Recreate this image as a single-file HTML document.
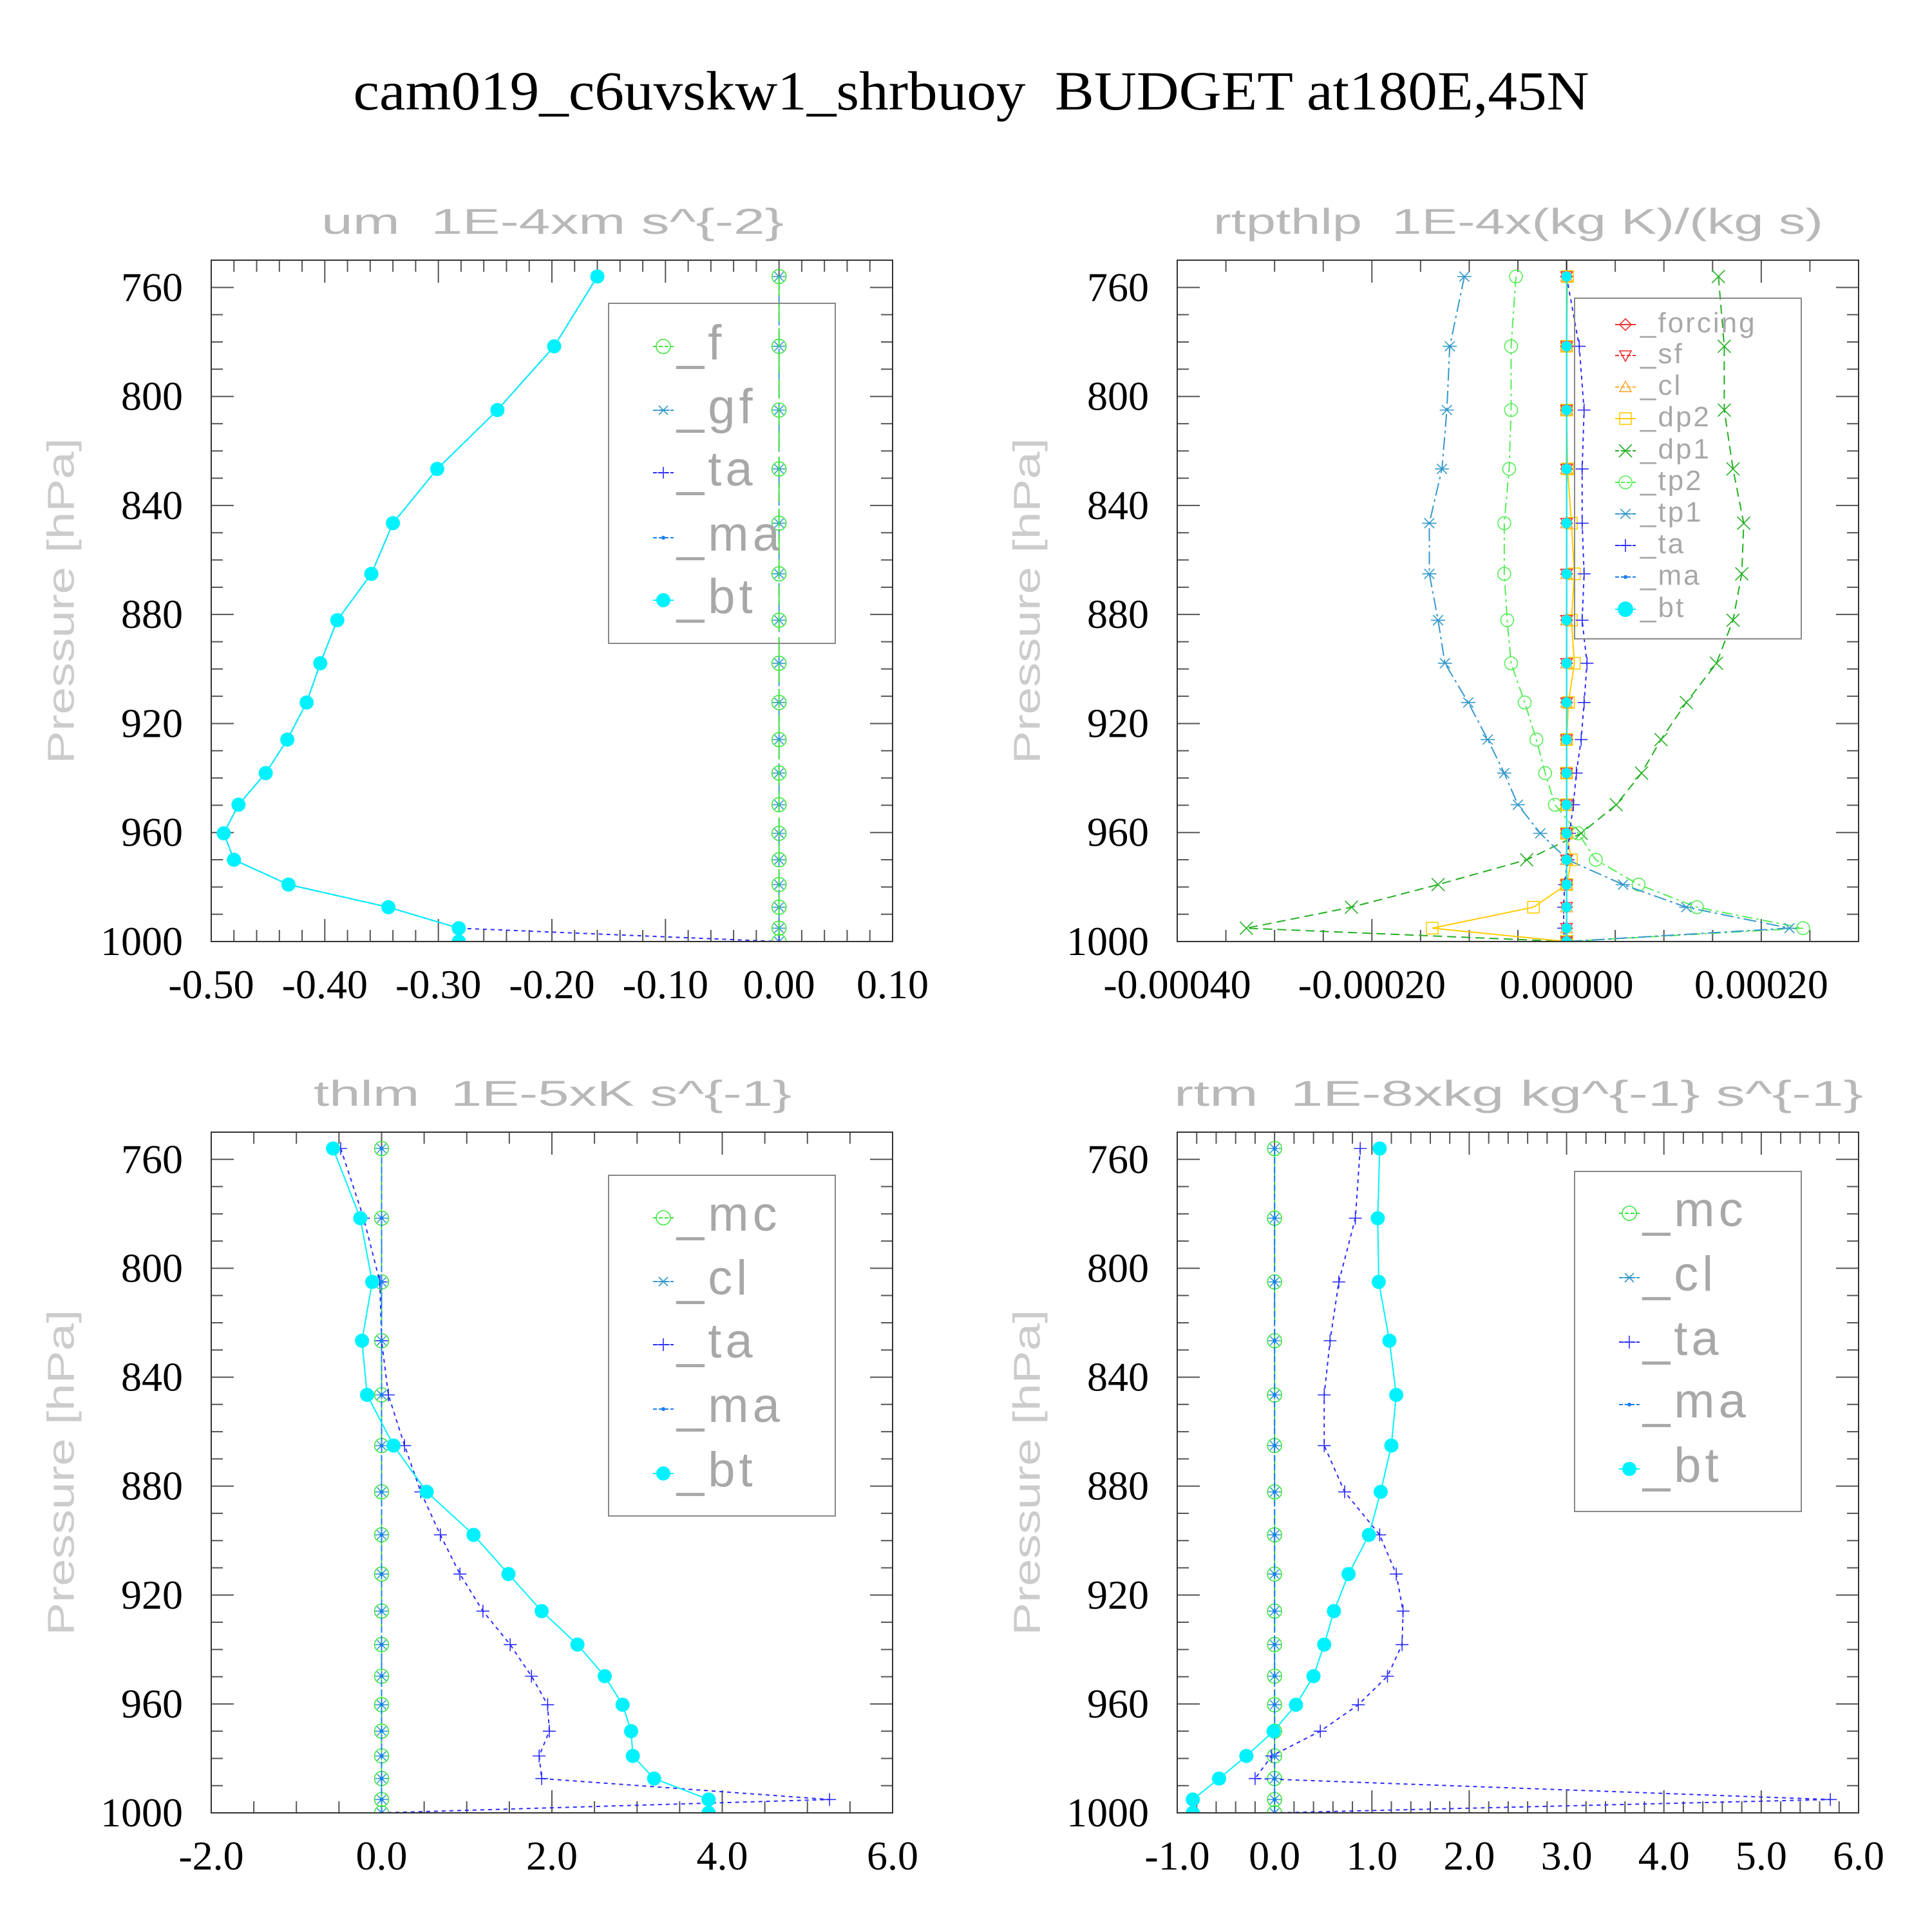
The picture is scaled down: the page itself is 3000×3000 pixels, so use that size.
<!DOCTYPE html>
<html><head><meta charset="utf-8"><style>
html,body{margin:0;padding:0;background:#fff;}
svg{display:block;}
text{white-space:pre;}
</style></head><body>
<svg id="fig" xmlns="http://www.w3.org/2000/svg" width="3000" height="3000" viewBox="0 0 3000 3000" xml:space="preserve">
<rect x="0" y="0" width="3000" height="3000" fill="#fff"/>
<text x="1508" y="170" text-anchor="middle" font-family="Liberation Serif, serif" font-size="86" textLength="1919" lengthAdjust="spacingAndGlyphs" fill="#000">cam019_c6uvskw1_shrbuoy  BUDGET at180E,45N</text>
</svg>
<script>
// pressure levels (hPa)
const levels = [756,781.6,805,826.6,846.5,865.1,882.1,897.9,912.3,925.9,938.2,949.8,960.3,970,979.1,987.4,995.1,1000];
const zeros = [0,0,0,0,0,0,0,0,0,0,0,0,0,0,0,0,0,0];
// panel 1: um (1E-4 m s^-2)
const um_bt = [-0.160,-0.198,-0.248,-0.301,-0.340,-0.359,-0.389,-0.404,-0.416,-0.433,-0.452,-0.476,-0.489,-0.480,-0.432,-0.344,-0.282,-0.282];
const um_ta = [-0.160,-0.198,-0.248,-0.301,-0.340,-0.359,-0.389,-0.404,-0.416,-0.433,-0.452,-0.476,-0.489,-0.480,-0.432,-0.344,-0.282,0];
// panel 2: rtpthlp (1E-4 units of x-axis scale)
const rp_tp1 = [-1.05,-1.20,-1.23,-1.28,-1.41,-1.41,-1.32,-1.25,-1.01,-0.81,-0.64,-0.50,-0.27,0.01,0.58,1.23,2.29,0];
const rp_tp2 = [-0.52,-0.57,-0.57,-0.59,-0.64,-0.64,-0.61,-0.57,-0.43,-0.31,-0.22,-0.12,0.12,0.30,0.74,1.34,2.43,0];
const rp_dp1 = [1.56,1.62,1.62,1.71,1.82,1.80,1.71,1.54,1.23,0.97,0.77,0.51,0.15,-0.41,-1.32,-2.21,-3.29,0];
const rp_dp2 = [0.01,0,0,0.01,0.05,0.08,0.05,0.08,0.02,0,0,0,0,0.05,0,-0.34,-1.38,0];
const rp_ta = [0.0,0.13,0.18,0.16,0.16,0.18,0.16,0.21,0.18,0.15,0.10,0.07,0.03,0.01,-0.02,-0.03,-0.03,0];
// panel 3: thlm (1E-5 K s^-1)
const th_bt = [-0.57,-0.25,-0.11,-0.23,-0.17,0.14,0.53,1.08,1.49,1.88,2.30,2.62,2.83,2.93,2.95,3.20,3.84,3.84];
const th_ta = [-0.48,-0.21,-0.02,0,0.08,0.27,0.46,0.69,0.92,1.19,1.51,1.76,1.95,1.97,1.85,1.88,5.26,0];
// panel 4: rtm (1E-8 kg kg^-1 s^-1)
const rt_bt = [1.08,1.06,1.07,1.18,1.25,1.20,1.09,0.97,0.76,0.61,0.51,0.40,0.22,-0.01,-0.29,-0.57,-0.84,-0.84];
const rt_ta = [0.88,0.83,0.66,0.57,0.51,0.51,0.72,1.08,1.25,1.32,1.31,1.16,0.86,0.47,-0.03,-0.20,5.71,0];
// tick labels
const yTickLabels = [760,800,840,880,920,960,1000];
const p1Ticks = ["-0.50","-0.40","-0.30","-0.20","-0.10","0.00","0.10"];
const p2Ticks = ["-0.00040","-0.00020","0.00000","0.00020"];
const p3Ticks = ["-2.0","0.0","2.0","4.0","6.0"];
const p4Ticks = ["-1.0","0.0","1.0","2.0","3.0","4.0","5.0","6.0"];

const NS = "http://www.w3.org/2000/svg";
const svg = document.getElementById('fig');
function mk(tag, attrs, parent){ const e=document.createElementNS(NS,tag); for(const k in attrs) e.setAttribute(k,attrs[k]); (parent||svg).appendChild(e); return e; }

const C = {green:'#3ce63c', lgreen:'#55ee55', dgreen:'#22b022', steel:'#3399cc', blue:'#2b2bff', ma:'#1a7ff0', cyan:'#00f2ff', red:'#ee3333', orange:'#ffaa33', gold:'#ffcc00'};

function marker(g, type, x, y, color, s){
  let e;
  if(type==='circle'){ e=mk('circle',{cx:x,cy:y,r:s,fill:'none',stroke:color,'stroke-width':1.6},g); }
  else if(type==='fcircle'){ e=mk('circle',{cx:x,cy:y,r:s,fill:color,stroke:'none'},g); }
  else if(type==='dot'){ e=mk('circle',{cx:x,cy:y,r:s,fill:color},g); }
  else if(type==='plus'){ e=mk('path',{d:`M${x-s} ${y}H${x+s}M${x} ${y-s}V${y+s}`,stroke:color,'stroke-width':1.6,fill:'none'},g); }
  else if(type==='x'){ e=mk('path',{d:`M${x-s} ${y-s}L${x+s} ${y+s}M${x-s} ${y+s}L${x+s} ${y-s}`,stroke:color,'stroke-width':1.6,fill:'none'},g); }
  else if(type==='asterisk'){ e=mk('path',{d:`M${x-s} ${y}H${x+s}M${x-s*0.7} ${y-s*0.7}L${x+s*0.7} ${y+s*0.7}M${x-s*0.7} ${y+s*0.7}L${x+s*0.7} ${y-s*0.7}`,stroke:color,'stroke-width':1.6,fill:'none'},g); }
  else if(type==='diamond'){ e=mk('path',{d:`M${x} ${y-s}L${x+s} ${y}L${x} ${y+s}L${x-s} ${y}Z`,stroke:color,'stroke-width':1.6,fill:'none'},g); }
  else if(type==='tridown'){ e=mk('path',{d:`M${x-s} ${y-s*0.8}H${x+s}L${x} ${y+s}Z`,stroke:color,'stroke-width':1.6,fill:'none'},g); }
  else if(type==='triup'){ e=mk('path',{d:`M${x-s} ${y+s*0.8}H${x+s}L${x} ${y-s}Z`,stroke:color,'stroke-width':1.6,fill:'none'},g); }
  else if(type==='square'){ e=mk('rect',{x:x-s,y:y-s,width:2*s,height:2*s,stroke:color,'stroke-width':1.6,fill:'none'},g); }
  return e;
}

function panel(cfg, idx){
  const {x0,x1,y0,y1,xmin,xmax} = cfg;
  const sx = v => x0 + (v-xmin)/(xmax-xmin)*(x1-x0);
  const sy = p => y0 + (p-750)/250*(y1-y0);
  const g = mk('g',{});
  
  
  const cp = mk('clipPath',{id:'clip'+idx},g);
  mk('rect',{x:x0,y:y0,width:x1-x0,height:y1-y0},cp);
  // title
  const t = mk('text',{x:(cfg.tx0+cfg.tx1)/2,y:y0-41,'text-anchor':'middle','font-family':'Liberation Sans, sans-serif','font-size':56,fill:'#b8b8b8',textLength:cfg.tx1-cfg.tx0,lengthAdjust:'spacingAndGlyphs'},g);
  t.textContent = cfg.title;
  
  
  // y label
  const cy = (y0+y1)/2, lx = x0-233;
  const yl = mk('text',{x:lx,y:cy,transform:`rotate(-90 ${lx} ${cy})`,'text-anchor':'middle','dominant-baseline':'central','font-family':'Liberation Sans, sans-serif','font-size':58,fill:'#cccccc',textLength:506,lengthAdjust:'spacingAndGlyphs'},g);
  yl.textContent = 'Pressure [hPa]';
  
  
  // ticks
  const tk = mk('g',{stroke:'#555','stroke-width':2},g);
  for(let p=760;p<=1000;p+=10){
    const y=sy(p), L=(p%40===0)?35:18;
    mk('line',{x1:x0,y1:y,x2:x0+L,y2:y},tk); mk('line',{x1:x1,y1:y,x2:x1-L,y2:y},tk);
  }
  const nMin = Math.round((xmax-xmin)/cfg.xminor);
  for(let i=1;i<nMin;i++){
    const v = xmin + i*cfg.xminor;
    const r = (v - cfg.xmajor0)/cfg.xmajor;
    const major = Math.abs(r-Math.round(r))<1e-6;
    const L = major?35:18, x=sx(v);
    mk('line',{x1:x,y1:y1,x2:x,y2:y1-L},tk); mk('line',{x1:x,y1:y0,x2:x,y2:y0+L},tk);
  }
  yTickLabels.forEach(p=>{
    const e = mk('text',{x:x0-44,y:sy(p)+21,'text-anchor':'end','font-family':'Liberation Serif, serif','font-size':64,fill:'#000'},g);
    e.textContent = p;
    
    
  });
  cfg.ticks.forEach((lab,i)=>{
    const v = cfg.xmajor0 + i*cfg.xmajor;
    const e = mk('text',{x:sx(v),y:y1+88,'text-anchor':'middle','font-family':'Liberation Serif, serif','font-size':64,fill:'#000'},g);
    e.textContent = lab;
    
    
  });
  // series
  const sg = mk('g',{'clip-path':`url(#clip${idx})`},g);
  if(cfg.blackZero){
    const zl = mk('line',{x1:sx(0),y1:y0,x2:sx(0),y2:y1,stroke:'#222','stroke-width':2},sg);
    
    
  }
  cfg.series.forEach(s=>{
    const sgg = mk('g',{},sg);
    
    
    const pts = s.vals.map((v,i)=>`${sx(v)},${sy(levels[i])}`).join(' ');
    const attrs = {points:pts,fill:'none',stroke:s.color,'stroke-width':s.w||2};
    if(s.dash) attrs['stroke-dasharray']=s.dash;
    mk('polyline',attrs,sgg);
    s.vals.forEach((v,i)=>{ const m=marker(sgg,s.marker,sx(v),sy(levels[i]),s.color,s.ms);
      
       });
  });
  // frame
  const fr = mk('rect',{x:x0,y:y0,width:x1-x0,height:y1-y0,fill:'none',stroke:'#333','stroke-width':2},g);
  
  
  // legend
  const L = cfg.legend;
  const lg = mk('g',{},g);
  
  
  mk('rect',{x:L.x,y:L.y,width:L.w,height:L.h,fill:'none',stroke:'#888','stroke-width':2},lg);
  cfg.series.slice().sort((a,b)=>a.order-b.order).forEach((s,i)=>{
    const ry = L.rows[i];
    const eg = mk('g',{},lg);
    
    
    const la = {x1:L.mx-16,y1:ry,x2:L.mx+16,y2:ry,stroke:s.color,'stroke-width':2};
    if(s.dash) la['stroke-dasharray']='6,3';
    mk('line',la,eg);
    marker(eg,s.marker,L.mx,ry,s.color,s.lms||s.ms);
    const tx = mk('text',{x:L.tx,y:ry+L.dy,'font-family':'Liberation Sans, sans-serif','font-size':L.fs,fill:'#a8a8a8','letter-spacing':L.ls},eg);
    tx.textContent = s.label;
  });
}

const panels = [
 {name:'panel-um',x0:328,x1:1386,y0:404,y1:1462,xmin:-0.5,xmax:0.1,xminor:0.02,xmajor:0.1,xmajor0:-0.5,ticks:p1Ticks,
  title:'um  1E-4xm s^{-2}',tx0:499,tx1:1217,
  legend:{x:945,y:471,w:352,h:528,rows:[538,637,734,835,932],mx:1030,tx:1051,dy:20,fs:76,ls:6},
  series:[
   {label:'_gf',vals:zeros,color:C.steel,dash:'20,8',marker:'asterisk',ms:10,order:1},
   {label:'_f',vals:zeros,color:C.green,dash:'30,10',marker:'circle',ms:11,order:0},
   {label:'_ta',vals:um_ta,color:C.blue,dash:'6,6',marker:'plus',ms:9,order:2},
   {label:'_ma',vals:um_bt,color:C.ma,dash:'10,4',marker:'dot',ms:3,order:3},
   {label:'_bt',vals:um_bt,color:C.cyan,marker:'fcircle',ms:11,w:2,order:4},
  ]},
 {name:'panel-rtpthlp',x0:1828,x1:2886,y0:404,y1:1462,xmin:-4,xmax:3,xminor:0.5,xmajor:2,xmajor0:-4,ticks:p2Ticks,blackZero:true,
  title:'rtpthlp  1E-4x(kg K)/(kg s)',tx0:1884,tx1:2831,
  legend:{x:2445,y:463,w:352,h:529,rows:[504,552,601,650,700,749,798,847,896,946],mx:2524,tx:2547,dy:12,fs:44,ls:3},
  series:[
   {label:'_dp1',vals:rp_dp1,color:C.dgreen,dash:'14,8',marker:'x',ms:10,order:4},
   {label:'_tp2',vals:rp_tp2,color:C.lgreen,dash:'16,6,4,6',marker:'circle',ms:10,order:5},
   {label:'_tp1',vals:rp_tp1,color:C.steel,dash:'20,6,4,6',marker:'asterisk',ms:11,order:6},
   {label:'_dp2',vals:rp_dp2,color:C.gold,marker:'square',ms:9,order:3},
   {label:'_ta',vals:rp_ta,color:C.blue,dash:'6,6',marker:'plus',ms:10,order:7},
   {label:'_forcing',vals:zeros,color:C.red,marker:'diamond',ms:9,order:0},
   {label:'_sf',vals:zeros,color:C.red,dash:'8,4',marker:'tridown',ms:9,order:1},
   {label:'_cl',vals:zeros,color:C.orange,dash:'8,4',marker:'triup',ms:9,order:2},
   {label:'_ma',vals:zeros,color:C.ma,dash:'10,4',marker:'dot',ms:3,order:8},
   {label:'_bt',vals:zeros,color:C.cyan,marker:'fcircle',ms:8,lms:12,order:9},
  ]},
 {name:'panel-thlm',x0:328,x1:1386,y0:1758,y1:2815,xmin:-2,xmax:6,xminor:0.5,xmajor:2,xmajor0:-2,ticks:p3Ticks,
  title:'thlm  1E-5xK s^{-1}',tx0:487,tx1:1229,
  legend:{x:945,y:1825,w:352,h:529,rows:[1891,1990,2088,2188,2288],mx:1030,tx:1051,dy:20,fs:76,ls:6},
  series:[
   {label:'_cl',vals:zeros,color:C.steel,dash:'20,8',marker:'asterisk',ms:10,order:1},
   {label:'_mc',vals:zeros,color:C.green,dash:'30,10',marker:'circle',ms:11,order:0},
   {label:'_ta',vals:th_ta,color:C.blue,dash:'6,6',marker:'plus',ms:10,order:2},
   {label:'_ma',vals:zeros,color:C.ma,dash:'10,4',marker:'dot',ms:3,order:3},
   {label:'_bt',vals:th_bt,color:C.cyan,marker:'fcircle',ms:11,order:4},
  ]},
 {name:'panel-rtm',x0:1828,x1:2886,y0:1758,y1:2815,xmin:-1,xmax:6,xminor:0.2,xmajor:1,xmajor0:-1,ticks:p4Ticks,
  title:'rtm  1E-8xkg kg^{-1} s^{-1}',tx0:1823,tx1:2893,
  legend:{x:2445,y:1819,w:352,h:528,rows:[1884,1984,2084,2181,2281],mx:2530,tx:2551,dy:20,fs:76,ls:6},
  series:[
   {label:'_cl',vals:zeros,color:C.steel,dash:'20,8',marker:'asterisk',ms:10,order:1},
   {label:'_mc',vals:zeros,color:C.green,dash:'30,10',marker:'circle',ms:11,order:0},
   {label:'_ta',vals:rt_ta,color:C.blue,dash:'6,6',marker:'plus',ms:10,order:2},
   {label:'_ma',vals:zeros,color:C.ma,dash:'10,4',marker:'dot',ms:3,order:3},
   {label:'_bt',vals:rt_bt,color:C.cyan,marker:'fcircle',ms:11,order:4},
  ]}
];
panels.forEach((p,i)=>panel(p,i));
</script>
</body></html>
